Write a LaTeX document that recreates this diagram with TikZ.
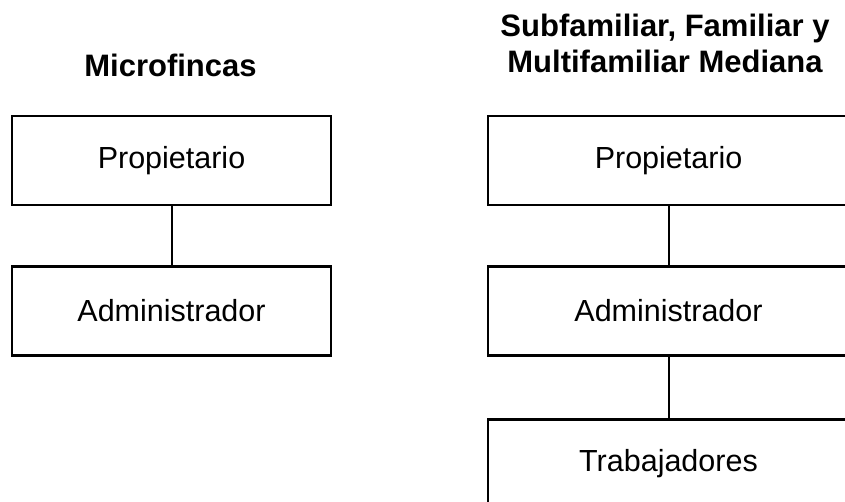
\documentclass[tikz,border=0pt]{standalone}
\usepackage{fontspec}
\setmainfont{Liberation Sans}
\begin{document}
\begin{tikzpicture}[x=1pt,y=1pt,
  orgbox/.style={draw=black, line width=2.7pt, rectangle, inner sep=0pt,
    font=\fontsize{30.5}{35}\selectfont},
  leftbox/.style={orgbox, minimum width=319pt, minimum height=89pt},
  rightbox/.style={orgbox, minimum width=361pt, minimum height=89pt},
  title/.style={font=\fontsize{31}{36}\selectfont\bfseries, inner sep=0pt, align=center},
  link/.style={draw=black, line width=2pt}]
\useasboundingbox (0,0) rectangle (845,-501);
\node[title, anchor=base] (t1) at (170.5,-76) {Microfincas};
\node[title, anchor=base] (t2) at (665,-72) {Subfamiliar, Familiar y\\Multifamiliar Mediana};
\node[leftbox] (l1) at (171.5,-160.5) {Propietario};
\node[leftbox] (l2) at (171.5,-311) {Administrador};
\node[rightbox] (r1) at (668.5,-160.5) {Propietario};
\node[rightbox] (r2) at (668.5,-311) {Administrador};
\node[rightbox] (r3) at (668.5,-464) {Trabajadores};
\draw[link] (l1.south) -- (l2.north);
\draw[link] (r1.south) -- (r2.north);
\draw[link] (r2.south) -- (r3.north);
\end{tikzpicture}
\end{document}
